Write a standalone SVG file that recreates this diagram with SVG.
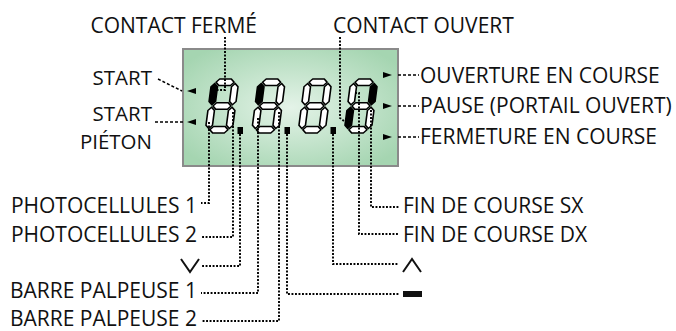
<svg xmlns="http://www.w3.org/2000/svg" xmlns:xlink="http://www.w3.org/1999/xlink" width="676" height="331" viewBox="0 0 676 331">
<style>
.t{font-family:"Open Sans","Noto Sans",sans-serif;font-size:21px;fill:#111}
.s{font-size:20.5px}
.dot{fill:none;stroke:#000;stroke-width:1.9;stroke-dasharray:1.9 1.6}
.dash{fill:none;stroke:#000;stroke-width:1.5;stroke-dasharray:3 2}
.sym{fill:none;stroke:#111;stroke-width:2}
.seg{stroke:#000;stroke-width:1.6;stroke-linejoin:round}
.off{fill:#fff}
.on{fill:#000}
.arr{fill:#000}
</style>
<defs>
<radialGradient id="lcd" cx="0.5" cy="0.5" r="0.62">
<stop offset="0" stop-color="#e4f3e8"/>
<stop offset="1" stop-color="#a5d5b1"/>
</radialGradient>
<polygon id="sa" points="4.45,3.25 7.7,0 19.3,0 22.55,3.25 19.3,6.5 7.7,6.5"/>
<polygon id="sg" points="4.45,27 7.7,23.75 19.3,23.75 22.55,27 19.3,30.25 7.7,30.25"/>
<polygon id="sd" points="4.45,50.75 7.7,47.5 19.3,47.5 22.55,50.75 19.3,54 7.7,54"/>
<polygon id="sf" points="3.25,4.45 6.5,7.7 6.5,22.55 3.25,25.8 0,22.55 0,7.7"/>
<polygon id="sb" points="23.75,4.45 27,7.7 27,22.55 23.75,25.8 20.5,22.55 20.5,7.7"/>
<polygon id="se" points="3.25,28.2 6.5,31.45 6.5,46.3 3.25,49.55 0,46.3 0,31.45"/>
<polygon id="sc" points="23.75,28.2 27,31.45 27,46.3 23.75,49.55 20.5,46.3 20.5,31.45"/>
</defs>

<g id="display">
<rect x="183" y="49" width="215" height="117" fill="url(#lcd)" stroke="#8a8a8a" stroke-width="2"/>
</g>

<g id="digit1" class="seg" transform="matrix(1,0,-0.13,1,212,79)">
<use xlink:href="#sa" class="off"/><use xlink:href="#sb" class="off"/><use xlink:href="#sc" class="off"/><use xlink:href="#sd" class="off"/><use xlink:href="#se" class="off"/><use xlink:href="#sf" class="on"/><use xlink:href="#sg" class="off"/>
</g>
<g id="digit2" class="seg" transform="matrix(1,0,-0.13,1,258.5,79)">
<use xlink:href="#sa" class="off"/><use xlink:href="#sb" class="off"/><use xlink:href="#sc" class="off"/><use xlink:href="#sd" class="off"/><use xlink:href="#se" class="off"/><use xlink:href="#sf" class="on"/><use xlink:href="#sg" class="off"/>
</g>
<g id="digit3" class="seg" transform="matrix(1,0,-0.13,1,305,79)">
<use xlink:href="#sa" class="off"/><use xlink:href="#sb" class="off"/><use xlink:href="#sc" class="off"/><use xlink:href="#sd" class="off"/><use xlink:href="#se" class="off"/><use xlink:href="#sf" class="off"/><use xlink:href="#sg" class="off"/>
</g>
<g id="digit4" class="seg" transform="matrix(1,0,-0.13,1,351,79)">
<use xlink:href="#sa" class="off"/><use xlink:href="#sb" class="on"/><use xlink:href="#sc" class="off"/><use xlink:href="#sd" class="off"/><use xlink:href="#se" class="on"/><use xlink:href="#sf" class="off"/><use xlink:href="#sg" class="off"/>
</g>
<g id="points" fill="#000">
<rect x="237.5" y="127" width="5.5" height="7"/>
<rect x="284.5" y="127" width="5.5" height="7"/>
<rect x="330.5" y="127" width="5.5" height="7"/>
</g>

<g id="indicators" class="arr">
<polygon points="187,91 196,88 196,94"/>
<polygon points="187,122 196,119 196,125"/>
<polygon points="392,75 383,72 383,78"/>
<polygon points="392,106 383,103 383,109"/>
<polygon points="392,137 383,134 383,140"/>
</g>

<g id="connectors">
<path class="dot" d="M225,37 V90 H216"/>
<path class="dot" d="M340,37 V118 L344,121"/>
<path class="dash" d="M158,79 L182,91"/>
<path class="dash" d="M155,122 H183"/>
<path class="dash" d="M398,75 H419"/>
<path class="dash" d="M398,106 H419"/>
<path class="dash" d="M398,137 H419"/>
<path class="dot" d="M209,122 V203 H201"/>
<path class="dot" d="M233,112 V237 H201"/>
<path class="dot" d="M240,134 V266 H201"/>
<path class="dot" d="M258,118 V293 H201"/>
<path class="dot" d="M279,112 V321 H201"/>
<path class="dot" d="M287,134 V294 H399"/>
<path class="dot" d="M333,134 V264 H399"/>
<path class="dot" d="M355,93 H359 V234 H399"/>
<path class="dot" d="M371,110 V207 H399"/>
</g>

<g id="labels">
<text class="t" x="257" y="33" text-anchor="end">CONTACT FERMÉ</text>
<text class="t" x="333" y="33">CONTACT OUVERT</text>
<text class="t s" x="152" y="85" text-anchor="end">START</text>
<text class="t s" x="152" y="121" text-anchor="end">START</text>
<text class="t s" x="152" y="149" text-anchor="end">PIÉTON</text>
<text class="t" x="420" y="83">OUVERTURE EN COURSE</text>
<text class="t" x="420" y="113">PAUSE (PORTAIL OUVERT)</text>
<text class="t" x="420" y="144">FERMETURE EN COURSE</text>
<text class="t" x="197" y="213" text-anchor="end">PHOTOCELLULES 1</text>
<text class="t" x="197" y="242" text-anchor="end">PHOTOCELLULES 2</text>
<polyline class="sym" points="181,259 190,272 199,259"/>
<text class="t" x="197" y="298" text-anchor="end">BARRE PALPEUSE 1</text>
<text class="t" x="197" y="326" text-anchor="end">BARRE PALPEUSE 2</text>
<text class="t" x="403" y="213">FIN DE COURSE SX</text>
<text class="t" x="403" y="242">FIN DE COURSE DX</text>
<polyline class="sym" points="403,272 412,259 421,272"/>
<rect x="403" y="291" width="19" height="6" fill="#111"/>
</g>
</svg>
